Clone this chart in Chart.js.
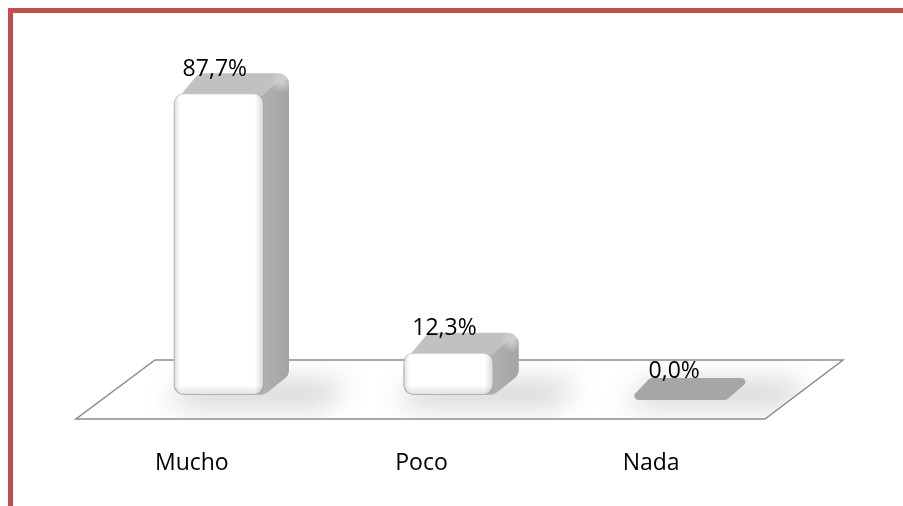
<!DOCTYPE html>
<html>
<head>
<meta charset="utf-8">
<script src="https://cdn.jsdelivr.net/npm/chart.js@4.4.1/dist/chart.umd.min.js"></script>
<style>
  html,body{margin:0;padding:0;background:#fff;}
  #wrap{position:relative;width:903px;height:506px;}
</style>
</head>
<body>
<div id="wrap"><canvas id="c" width="903" height="506"></canvas></div>
<script>
const categories=['Mucho','Poco','Nada'];
const percents=[87.7,12.3,0.0];
const valueLabels=['87,7%','12,3%','0,0%'];

// depth of the fake 3d box
const DX=25, DY=20;

const frame={
  id:'frame',
  beforeDraw(chart){
    const ctx=chart.ctx;ctx.save();
    ctx.fillStyle='#fff';ctx.fillRect(0,0,chart.width,chart.height);
    ctx.fillStyle='#C0504D';
    ctx.fillRect(8,8,chart.width,5);
    ctx.fillRect(8,8,5,chart.height);
    ctx.restore();
  }
};

function roundPoly(ctx,pts,r){
  ctx.beginPath();
  const n=pts.length;
  const s=[(pts[n-1][0]+pts[0][0])/2,(pts[n-1][1]+pts[0][1])/2];
  ctx.moveTo(s[0],s[1]);
  for(let i=0;i<n;i++){
    const p=pts[i],q=pts[(i+1)%n];
    ctx.arcTo(p[0],p[1],q[0],q[1],r);
  }
  ctx.closePath();
}
function poly(ctx,pts){
  ctx.beginPath();pts.forEach((p,i)=>i?ctx.lineTo(p[0],p[1]):ctx.moveTo(p[0],p[1]));ctx.closePath();
}

const box3d={
  id:'box3d',
  beforeDatasetsDraw(chart){
    const {ctx,chartArea:a,scales:{y}}=chart;
    const y0=y.getPixelForValue(0);
    const floor=[[a.left-28,y0+24],[a.right-28,y0+24],[a.right+50,y0-35],[a.left+51,y0-35]];
    ctx.save();
    poly(ctx,floor);ctx.fillStyle='#fff';ctx.fill();
    ctx.save();ctx.clip();
    const els=chart.getDatasetMeta(0).data;
    ctx.filter='blur(14px)';
    ctx.fillStyle='rgba(0,0,0,0.2)';
    els.forEach(el=>{
      const x0=el.x-el.width/2;
      poly(ctx,[[x0-10,y0+10],[x0+el.width+60,y0+10],[x0+el.width+85,y0-12],[x0+20,y0-12]]);
      ctx.fill();
    });
    ctx.filter='none';
    ctx.restore();
    poly(ctx,floor);ctx.strokeStyle='#8c8c8c';ctx.lineWidth=1.5;ctx.stroke();

    els.forEach(el=>{
      const w=el.width,x0=el.x-w/2,x1=x0+w,top=el.y,bot=el.base;
      if(bot-top<2){
        ctx.fillStyle='#a6a6a6';
        roundPoly(ctx,[[x0-4,bot+5],[x1+3,bot+5],[x1+DX+4,bot-17],[x0+DX-8,bot-17]],4);
        ctx.fill();
        return;
      }
      const shape=[[x0,top+10],[x0+DX,top-DY],[x1+DX,top-DY],[x1+DX,bot-DY],[x1,bot],[x0,bot]];
      // top face
      ctx.save();
      roundPoly(ctx,shape,11);
      ctx.fillStyle='#c1c1c1';ctx.fill();
      ctx.clip();
      // side face
      let g=ctx.createLinearGradient(x1,0,x1+DX,0);
      g.addColorStop(0,'#b0b0b0');g.addColorStop(1,'#a4a4a4');
      ctx.fillStyle=g;
      poly(ctx,[[x1-4,top+4],[x1+DX-8,top-DY+6],[x1+DX+2,top-DY+6],[x1+DX+2,bot],[x1-4,bot]]);
      ctx.fill();
      // soft highlight on the rounded top-right corner
      g=ctx.createRadialGradient(x1+DX-7,top-DY+8,0,x1+DX-7,top-DY+8,12);
      g.addColorStop(0,'rgba(215,215,215,0.9)');g.addColorStop(1,'rgba(215,215,215,0)');
      ctx.fillStyle=g;
      ctx.fillRect(x1+DX-20,top-DY-4,24,24);
      ctx.restore();
    });
    ctx.restore();
  },
  afterDatasetsDraw(chart){
    const {ctx}=chart;
    const els=chart.getDatasetMeta(0).data;
    ctx.save();
    els.forEach((el,i)=>{
      const w=el.width,x0=el.x-w/2,top=el.y,bot=el.base;
      if(bot-top>=2){
        ctx.save();
        ctx.beginPath();ctx.roundRect(x0,top,w,bot-top,10);ctx.clip();
        let g=ctx.createLinearGradient(x0,0,x0+w,0);
        g.addColorStop(0,'rgba(0,0,0,0.14)');g.addColorStop(0.07,'rgba(0,0,0,0)');
        g.addColorStop(0.9,'rgba(0,0,0,0)');g.addColorStop(1,'rgba(0,0,0,0.16)');
        ctx.fillStyle=g;ctx.fillRect(x0,top,w,bot-top);
        g=ctx.createLinearGradient(0,bot-10,0,bot);
        g.addColorStop(0,'rgba(0,0,0,0)');g.addColorStop(1,'rgba(0,0,0,0.12)');
        ctx.fillStyle=g;ctx.fillRect(x0,bot-10,w,10);
        ctx.restore();
      }
      ctx.fillStyle='#000';
      ctx.font='23px "Open Sans"';
      ctx.textAlign='center';ctx.textBaseline='middle';
      ctx.fillText(valueLabels[i],el.x-4,top-24);
    });
    ctx.restore();
  }
};

Chart.defaults.font.family='"Open Sans", "DejaVu Sans", sans-serif';

new Chart(document.getElementById('c'),{
  type:'bar',
  data:{labels:categories,datasets:[{
    data:percents,
    backgroundColor:'#ffffff',
    borderColor:'#c8c8c8',
    borderWidth:1,
    borderRadius:10,
    borderSkipped:false,
    barPercentage:0.393,
    categoryPercentage:1
  }]},
  options:{
    responsive:false,animation:false,
    layout:{padding:{left:104,right:110,top:51,bottom:21}},
    plugins:{legend:{display:false},tooltip:{enabled:false}},
    scales:{
      x:{grid:{display:false,drawTicks:false},border:{display:false},
         ticks:{color:'#000',font:{size:23},padding:55,labelOffset:-27},
         afterFit(s){s.height=90;}},
      y:{display:false,min:0,max:100}
    }
  },
  plugins:[frame,box3d]
});
</script>
</body>
</html>
